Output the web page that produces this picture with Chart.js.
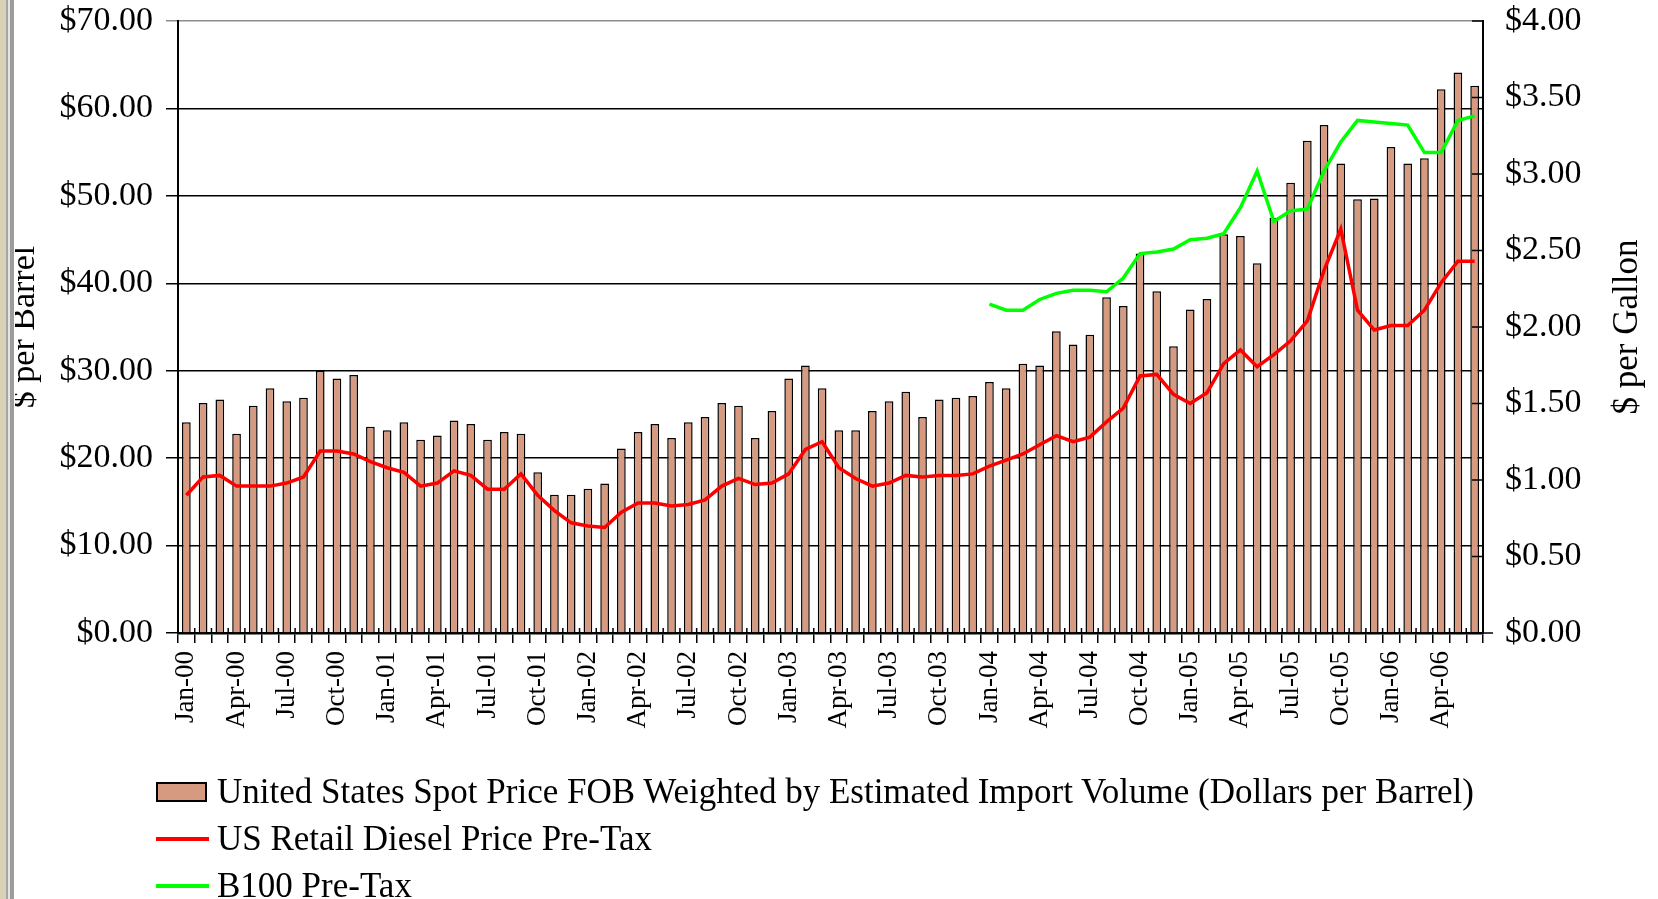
<!DOCTYPE html>
<html>
<head>
<meta charset="utf-8">
<script src="https://cdn.jsdelivr.net/npm/chart.js@4.4.1/dist/chart.umd.min.js"></script>
<style>
  html, body { margin: 0; padding: 0; background: #fff; }
  #wrap { position: relative; width: 1658px; height: 899px; overflow: hidden; }
  #strip { position: absolute; left: 0; top: 0; width: 15px; height: 899px;
    background: linear-gradient(to right, #d8d2b6 0 6px, #a6a6a6 6px 8px, #e4e4e4 8px 10px, #9c9c9c 10px 14px, #fff 14px); }
  #legend { position: absolute; left: 156px; top: 768px; font-family: "Liberation Serif", serif; font-size: 35px; color: #000; }
  .row { height: 47px; display: flex; align-items: center; white-space: nowrap; }
  .sw { width: 53px; margin-right: 8px; display: flex; align-items: center; }
  .box { width: 47px; height: 16px; border: 2px solid #000; }
  .ln { width: 53px; height: 4px; }
</style>
</head>
<body>
<div id="wrap">
  <canvas id="fuelChart"></canvas>
  <div id="strip"></div>
  <div id="legend"></div>
</div>
<script>
// Monthly categories Jan-00 .. Jun-06
const months = [
  'Jan-00','Feb-00','Mar-00','Apr-00','May-00','Jun-00','Jul-00','Aug-00','Sep-00','Oct-00','Nov-00','Dec-00',
  'Jan-01','Feb-01','Mar-01','Apr-01','May-01','Jun-01','Jul-01','Aug-01','Sep-01','Oct-01','Nov-01','Dec-01',
  'Jan-02','Feb-02','Mar-02','Apr-02','May-02','Jun-02','Jul-02','Aug-02','Sep-02','Oct-02','Nov-02','Dec-02',
  'Jan-03','Feb-03','Mar-03','Apr-03','May-03','Jun-03','Jul-03','Aug-03','Sep-03','Oct-03','Nov-03','Dec-03',
  'Jan-04','Feb-04','Mar-04','Apr-04','May-04','Jun-04','Jul-04','Aug-04','Sep-04','Oct-04','Nov-04','Dec-04',
  'Jan-05','Feb-05','Mar-05','Apr-05','May-05','Jun-05','Jul-05','Aug-05','Sep-05','Oct-05','Nov-05','Dec-05',
  'Jan-06','Feb-06','Mar-06','Apr-06','May-06','Jun-06'
];

// Crude spot price, $ per barrel (left axis)
const crudePrice = [
  24.1, 26.3, 26.7, 22.8, 26.0, 28.0, 26.5, 26.9, 30.0, 29.1, 29.5, 23.6,
  23.2, 24.1, 22.1, 22.6, 24.3, 23.9, 22.1, 23.0, 22.8, 18.4, 15.8, 15.8,
  16.5, 17.1, 21.1, 23.0, 23.9, 22.3, 24.1, 24.7, 26.3, 26.0, 22.3, 25.4,
  29.1, 30.6, 28.0, 23.2, 23.2, 25.4, 26.5, 27.6, 24.7, 26.7, 26.9, 27.1,
  28.7, 28.0, 30.8, 30.6, 34.5, 33.0, 34.1, 38.4, 37.4, 43.4, 39.1, 32.8,
  37.0, 38.2, 45.6, 45.4, 42.3, 47.5, 51.5, 56.3, 58.1, 53.7, 49.6, 49.7,
  55.6, 53.7, 54.3, 62.2, 64.1, 62.6
];

// Retail diesel pre-tax, $ per gallon (right axis)
const dieselPrice = [
  0.90, 1.02, 1.03, 0.96, 0.96, 0.96, 0.98, 1.02, 1.19, 1.19, 1.17, 1.12,
  1.08, 1.05, 0.96, 0.98, 1.06, 1.03, 0.94, 0.94, 1.04, 0.90, 0.80, 0.72,
  0.70, 0.69, 0.79, 0.85, 0.85, 0.83, 0.84, 0.87, 0.96, 1.01, 0.97, 0.98,
  1.04, 1.20, 1.25, 1.08, 1.01, 0.96, 0.98, 1.03, 1.02, 1.03, 1.03, 1.04,
  1.09, 1.13, 1.17, 1.23, 1.29, 1.25, 1.28, 1.38, 1.47, 1.68, 1.69, 1.56,
  1.50, 1.57, 1.76, 1.85, 1.74, 1.82, 1.91, 2.04, 2.37, 2.64, 2.11, 1.98,
  2.01, 2.01, 2.11, 2.29, 2.43, 2.43
];

// B100 pre-tax, $ per gallon (right axis), starts Jan-04
const b100Price = [
  null, null, null, null, null, null, null, null, null, null, null, null,
  null, null, null, null, null, null, null, null, null, null, null, null,
  null, null, null, null, null, null, null, null, null, null, null, null,
  null, null, null, null, null, null, null, null, null, null, null, null,
  2.15, 2.11, 2.11, 2.18, 2.22, 2.24, 2.24, 2.23, 2.32, 2.48, 2.49, 2.51,
  2.57, 2.58, 2.61, 2.78, 3.02, 2.69, 2.76, 2.77, 3.02, 3.21, 3.35, 3.34,
  3.33, 3.32, 3.14, 3.14, 3.35, 3.38
];

const leftTicks = [0, 10, 20, 30, 40, 50, 60, 70];
const rightTicks = [0, 0.5, 1, 1.5, 2, 2.5, 3, 3.5, 4];

const FONT = '"Liberation Serif", "Times New Roman", serif';
Chart.defaults.font.family = FONT;
Chart.defaults.color = '#000';

// extra axis decoration: inward ticks on right axis, x ticks crossing the axis, right title
const axisExtras = {
  id: 'axisExtras',
  afterDraw(chart) {
    const { ctx, chartArea, scales } = chart;
    ctx.save();
    ctx.strokeStyle = '#000';
    ctx.lineWidth = 1.5;
    rightTicks.forEach(v => {
      const y = scales.y1.getPixelForValue(v);
      ctx.beginPath();
      ctx.moveTo(chartArea.right - 11, y);
      ctx.lineTo(chartArea.right + (v === 0 ? 10 : 0), y);
      ctx.stroke();
    });
    const step = scales.x.getPixelForValue(1) - scales.x.getPixelForValue(0);
    for (let i = 0; i <= months.length; i++) {
      const x = scales.x.getPixelForValue(0) - step / 2 + i * step;
      ctx.beginPath();
      ctx.moveTo(x, chartArea.bottom - 5);
      ctx.lineTo(x, chartArea.bottom);
      ctx.stroke();
    }
    ctx.fillStyle = '#000';
    ctx.font = '35px ' + FONT;
    ctx.textAlign = 'center';
    ctx.textBaseline = 'middle';
    ctx.translate(1628, (chartArea.top + chartArea.bottom) / 2);
    ctx.rotate(-Math.PI / 2);
    ctx.fillText('$ per Gallon', 0, 0);
    ctx.restore();
  }
};

// keep the y axes from pushing the plot area down
const noVertPad = s => { s.paddingTop = 0; s.paddingBottom = 0; };

const ctx = document.getElementById('fuelChart').getContext('2d');
const fuelChart = new Chart(ctx, {
  type: 'bar',
  data: {
    labels: months,
    datasets: [
      {
        label: 'United States Spot Price FOB Weighted by Estimated Import Volume (Dollars per Barrel)',
        data: crudePrice,
        backgroundColor: '#d59a80',
        borderColor: '#000',
        borderWidth: 1.5,
        barPercentage: 0.52,
        categoryPercentage: 1,
        yAxisID: 'y',
        order: 3
      },
      {
        type: 'line',
        label: 'US Retail Diesel Price Pre-Tax',
        data: dieselPrice,
        borderColor: '#ff0000',
        backgroundColor: '#ff0000',
        borderWidth: 3.5,
        pointRadius: 0,
        tension: 0,
        yAxisID: 'y1',
        order: 1
      },
      {
        type: 'line',
        label: 'B100 Pre-Tax',
        data: b100Price,
        borderColor: '#00ff00',
        backgroundColor: '#00ff00',
        borderWidth: 3.5,
        pointRadius: 0,
        tension: 0,
        spanGaps: false,
        yAxisID: 'y1',
        order: 2
      }
    ]
  },
  options: {
    responsive: true,
    maintainAspectRatio: false,
    devicePixelRatio: 1,
    animation: false,
    layout: { padding: { top: 21, left: 0, right: 0, bottom: 0 } },
    plugins: {
      legend: { display: false },
      tooltip: { enabled: false }
    },
    scales: {
      x: {
        offset: true,
        grid: { offset: true, drawOnChartArea: false, drawTicks: true, tickLength: 10, color: '#000', lineWidth: 1.5 },
        border: { display: true, color: '#000', width: 2.5 },
        ticks: {
          autoSkip: false, minRotation: 90, maxRotation: 90, padding: 8,
          font: { size: 27 },
          callback: (v, i) => (i % 3 === 0 ? months[i] : '')
        },
        afterFit: s => { s.height = 266; }
      },
      y: {
        position: 'left',
        min: 0, max: 70,
        afterBuildTicks: s => { s.ticks = leftTicks.map(v => ({ value: v })); },
        grid: {
          color: c => (c.tick && c.tick.value === 70 ? '#8c8c8c' : '#000'),
          lineWidth: 1.5, tickLength: 12
        },
        border: { display: true, color: '#000', width: 2 },
        ticks: { padding: 13, font: { size: 34 }, callback: v => '$' + Number(v).toFixed(2) },
        title: { display: true, text: '$ per Barrel', font: { size: 34 }, padding: { top: 5, bottom: 0 } },
        afterFit: s => { s.width = 178; noVertPad(s); }
      },
      y1: {
        position: 'right',
        min: 0, max: 4,
        afterBuildTicks: s => { s.ticks = rightTicks.map(v => ({ value: v })); },
        grid: { drawOnChartArea: false, drawTicks: false },
        border: { display: true, color: '#000', width: 2 },
        ticks: { padding: 22, font: { size: 34 }, callback: v => '$' + Number(v).toFixed(2) },
        afterFit: s => { s.width = 175; noVertPad(s); }
      }
    }
  },
  plugins: [axisExtras]
});

// HTML legend, one row per dataset
document.getElementById('legend').innerHTML = fuelChart.data.datasets.map(ds => `
  <div class="row">
    <div class="sw">${ds.type === 'line'
      ? `<div class="ln" style="background:${ds.borderColor}"></div>`
      : `<div class="box" style="background:${ds.backgroundColor}"></div>`}</div>
    <span>${ds.label}</span>
  </div>`).join('');
</script>
</body>
</html>
